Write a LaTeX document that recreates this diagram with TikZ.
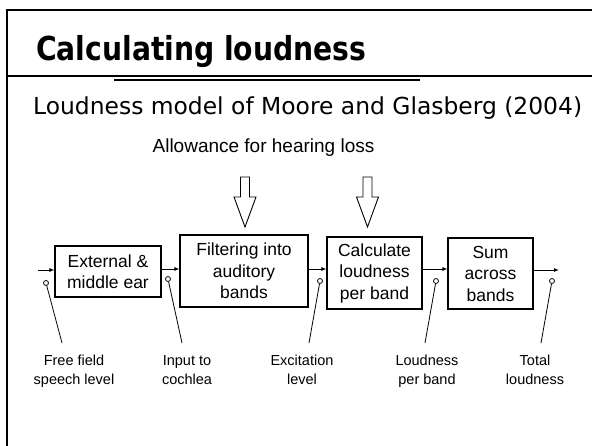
\documentclass[tikz,border=0pt]{standalone}
\usepackage{fontspec}
\setmainfont{Liberation Sans}
\newfontfamily\headfont{DejaVu Sans Condensed}
\newfontfamily\subheadfont{DejaVu Sans}
\usetikzlibrary{arrows.meta,calc}

\begin{document}
\begin{tikzpicture}[x=1pt,y=-1pt,
  stage/.style={draw,line width=1.1pt,align=center,inner sep=0pt,
    font=\fontsize{17.5}{21.5}\selectfont},
  flow/.style={line width=0.9pt,-{Latex[length=5pt,width=4pt]}},
  probe/.style={circle,draw,line width=0.8pt,inner sep=0pt,minimum size=5pt},
  lead/.style={line width=0.8pt},
  caption/.style={align=center,inner sep=0pt,anchor=north,
    font=\fontsize{14.5}{19}\selectfont},
  hollow/.style={draw,line width=0.9pt,fill=white,line join=miter}]

\useasboundingbox (0,0) rectangle (592,446);

% slide frame
\draw[line width=2.2pt] (592,10) -- (7,10) -- (7,446);
\draw[line width=1.8pt] (7,76) -- (592,76);
\draw[line width=1.4pt] (114,80) -- (420,80);

% headings
\node[anchor=base west,inner sep=0pt,font=\headfont\bfseries\fontsize{33}{36}\selectfont]
  (title) at (36,61) {\scalebox{0.95}[1]{Calculating loudness}};
\node[anchor=base west,inner sep=0pt,font=\subheadfont\fontsize{23.4}{26}\selectfont]
  (model) at (33,115) {Loudness model of Moore and Glasberg (2004)};
\node[anchor=base,inner sep=0pt,font=\fontsize{19}{22}\selectfont]
  (allow) at (263.5,153) {Allowance for hearing loss};

% processing stages
\node[stage,minimum width=106pt,minimum height=51pt] (b1) at (108,271.5)
  {External \&\\middle ear};
\node[stage,minimum width=128pt,minimum height=72pt] (b2) at (244,271)
  {Filtering into\\auditory\\bands};
\node[stage,minimum width=95pt,minimum height=72pt] (b3) at (374.5,273)
  {Calculate\\loudness\\per band};
\node[stage,minimum width=85pt,minimum height=71pt] (b4) at (490.5,273.5)
  {Sum\\across\\bands};

% signal path
\coordinate (in) at (38,270);
\coordinate (out) at (559,270);
\draw[flow] (in) -- (in -| b1.west);
\draw[flow] (b1.east |- 0,269) -- (b2.west |- 0,269);
\draw[flow] (b2.east |- 0,269) -- (b3.west |- 0,269);
\draw[flow] (b3.east |- 0,269) -- (b4.west |- 0,269);
\draw[flow] (b4.east |- out) -- (out);

% hearing-loss inputs
\foreach \cx in {245,367.5}{
  \draw[hollow] (\cx-4.5,177) -- (\cx+4.5,177) -- (\cx+4.5,197) -- (\cx+11,197)
    -- (\cx,227) -- (\cx-11,197) -- (\cx-4.5,197) -- cycle;
}

% measurement points
\node[probe] (p1) at (46,283) {};
\node[probe] (p2) at (168,279) {};
\node[probe] (p3) at (320,281) {};
\node[probe] (p4) at (436,281) {};
\node[probe] (p5) at (552,281) {};

\coordinate (e1) at (62,343);
\coordinate (e2) at (182,343);
\coordinate (e3) at (309,343);
\coordinate (e4) at (425,343);
\coordinate (e5) at (541,343);

\foreach \i in {1,...,5}{ \draw[lead] (p\i) -- (e\i); }

\node[caption] (l1) at (74,355) {Free field\\speech level};
\node[caption] (l2) at (187,355) {Input to\\cochlea};
\node[caption] (l3) at (302,355) {Excitation\\level};
\node[caption] (l4) at (427,355) {Loudness\\per band};
\node[caption] (l5) at (535,355) {Total\\loudness};

\end{tikzpicture}
\end{document}
